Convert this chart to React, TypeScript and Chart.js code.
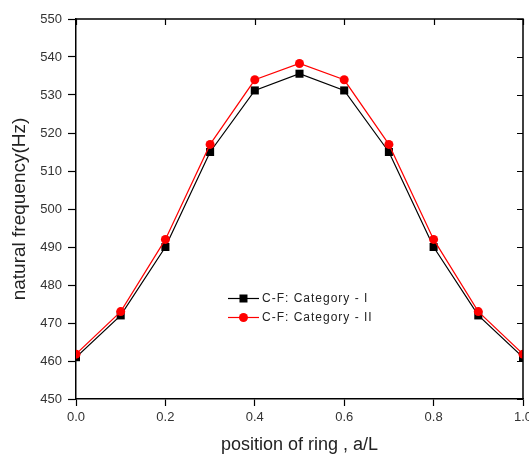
import React, { useEffect, useRef } from "react";
import { Chart, registerables } from "chart.js";

Chart.register(...registerables);

// Ring position along the shell, a/L
const positions = [0.0, 0.1, 0.2, 0.3, 0.4, 0.5, 0.6, 0.7, 0.8, 0.9, 1.0];
// Natural frequency (Hz) for the clamped-free shell, two ring categories
const categoryI = [461, 472, 490, 515, 531.2, 535.6, 531.2, 515, 490, 472, 461];
const categoryII = [461.8, 473, 492, 517, 534, 538.3, 534, 517, 492, 473, 461.8];

const seriesLabels = ["C-F: Category - I", "C-F: Category - II"];
const xTitle = "position of ring , a/L";
const yTitle = "natural frequency(Hz)";

const FONT = "'Liberation Sans', Arial, Helvetica, sans-serif";

// Frame around the plot with inward ticks on the top and right edges
const framePlugin = {
  id: "frame",
  afterDatasetsDraw(chart: any) {
    const { ctx, chartArea } = chart;
    const xs = chart.scales.x;
    const ys = chart.scales.y;
    ctx.save();
    ctx.strokeStyle = "#000";
    ctx.lineWidth = 1.5;
    ctx.beginPath();
    ctx.moveTo(chartArea.left, chartArea.top);
    ctx.lineTo(chartArea.right, chartArea.top);
    ctx.lineTo(chartArea.right, chartArea.bottom);
    ctx.stroke();
    ctx.lineWidth = 1.2;
    ctx.beginPath();
    xs.ticks.forEach((t: any) => {
      const px = Math.round(xs.getPixelForValue(t.value)) + 0.5;
      ctx.moveTo(px, chartArea.top);
      ctx.lineTo(px, chartArea.top + 6);
    });
    ys.ticks.forEach((t: any) => {
      const py = Math.round(ys.getPixelForValue(t.value)) + 0.5;
      ctx.moveTo(chartArea.right, py);
      ctx.lineTo(chartArea.right - 6, py);
    });
    ctx.stroke();
    ctx.restore();
  },
};

// Legend block placed inside the plot area
const legendPlugin = {
  id: "innerLegend",
  afterDraw(chart: any) {
    const { ctx } = chart;
    const xs = chart.scales.x;
    const ys = chart.scales.y;
    const x0 = xs.getPixelForValue(0.34);
    const rows = [ys.getPixelForValue(476.5), ys.getPixelForValue(471.5)];
    const order = [1, 0];
    ctx.save();
    order.forEach((dsIndex, i) => {
      const ds = chart.data.datasets[dsIndex];
      const y = Math.round(rows[i]) + 0.5;
      ctx.strokeStyle = ds.borderColor;
      ctx.lineWidth = 1.2;
      ctx.beginPath();
      ctx.moveTo(x0, y);
      ctx.lineTo(x0 + 31, y);
      ctx.stroke();
      ctx.fillStyle = ds.pointBackgroundColor;
      if (ds.pointStyle === "rect") {
        ctx.fillRect(x0 + 15.5 - 4, y - 4, 8, 8);
      } else {
        ctx.beginPath();
        ctx.arc(x0 + 15.5, y, 4.5, 0, Math.PI * 2);
        ctx.fill();
      }
      ctx.fillStyle = "#222";
      ctx.font = `12px ${FONT}`;
      (ctx as any).letterSpacing = "1px";
      ctx.textAlign = "left";
      ctx.textBaseline = "middle";
      ctx.fillText(ds.label, x0 + 34, y);
    });
    ctx.restore();
  },
};

export default function App() {
  const canvasRef = useRef<HTMLCanvasElement | null>(null);

  useEffect(() => {
    if (!canvasRef.current) return;
    const chart = new Chart(canvasRef.current, {
      type: "line",
      data: {
        datasets: [
          {
            label: seriesLabels[1],
            data: positions.map((p, i) => ({ x: p, y: categoryII[i] })),
            borderColor: "#ff0000",
            backgroundColor: "#ff0000",
            pointBackgroundColor: "#ff0000",
            pointBorderColor: "#ff0000",
            pointStyle: "circle",
            pointRadius: 4.5,
            pointBorderWidth: 0,
            borderWidth: 1.2,
            tension: 0,
            order: 0,
          },
          {
            label: seriesLabels[0],
            data: positions.map((p, i) => ({ x: p, y: categoryI[i] })),
            borderColor: "#000000",
            backgroundColor: "#000000",
            pointBackgroundColor: "#000000",
            pointBorderColor: "#000000",
            pointStyle: "rect",
            pointRadius: 5.7,
            pointBorderWidth: 0,
            borderWidth: 1.2,
            tension: 0,
            order: 1,
          },
        ],
      },
      options: {
        animation: false,
        responsive: false,
        maintainAspectRatio: false,
        layout: { padding: { top: 19, right: 6, left: 0, bottom: 0 } },
        plugins: {
          legend: { display: false },
          tooltip: { enabled: false },
        },
        scales: {
          x: {
            type: "linear",
            min: 0,
            max: 1,
            ticks: {
              stepSize: 0.2,
              padding: 4,
              color: "#333",
              font: { family: FONT, size: 13 },
              callback: (v: any) => Number(v).toFixed(1),
            },
            grid: {
              display: true,
              drawOnChartArea: false,
              drawTicks: true,
              tickLength: 7,
              tickWidth: 1.2,
              tickColor: "#000",
            },
            border: { display: true, color: "#000", width: 1.5 },
            title: {
              display: true,
              text: xTitle,
              color: "#222",
              font: { family: FONT, size: 18 },
              padding: { top: 0, bottom: 4 },
            },
            afterFit: (s: any) => {
              s.height = 61;
              s.paddingLeft = 0;
              s.paddingRight = 0;
            },
          },
          y: {
            type: "linear",
            min: 450,
            max: 550,
            ticks: {
              stepSize: 10,
              padding: 6,
              color: "#333",
              font: { family: FONT, size: 13 },
            },
            grid: {
              display: true,
              drawOnChartArea: false,
              drawTicks: true,
              tickLength: 8,
              tickWidth: 1.2,
              tickColor: "#000",
            },
            border: { display: true, color: "#000", width: 1.5 },
            title: {
              display: true,
              text: yTitle,
              color: "#222",
              font: { family: FONT, size: 19 },
              padding: { top: 8, bottom: 0 },
            },
            afterFit: (s: any) => {
              s.width = 76;
              s.paddingTop = 0;
              s.paddingBottom = 0;
            },
          },
        },
      },
      plugins: [framePlugin, legendPlugin],
    });
    return () => chart.destroy();
  }, []);

  return (
    <div style={{ position: "fixed", left: 0, top: 0, width: 529, height: 460, background: "#fff" }}>
      <canvas ref={canvasRef} width={529} height={460} style={{ width: 529, height: 460 }} />
    </div>
  );
}
